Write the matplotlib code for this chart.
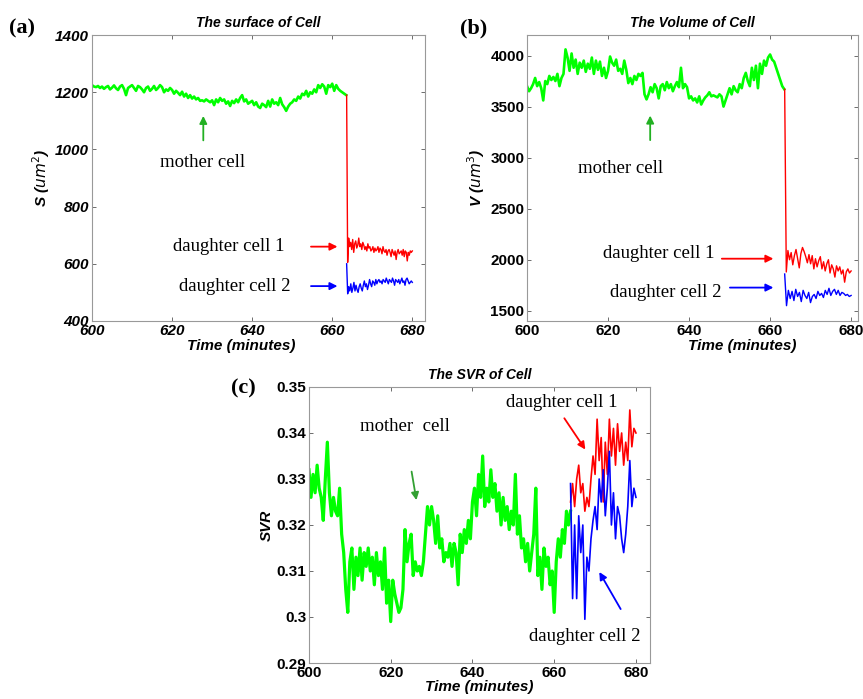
import numpy as np
import matplotlib
matplotlib.use('Agg')
import matplotlib.pyplot as plt

plt.rcParams['font.family'] = ['Liberation Sans', 'DejaVu Sans']

# ---- (a) surface, S (um^2) ----
s_mother = [1225, 1220, 1218, 1222, 1215, 1220, 1212, 1218, 1222, 1210, 1216, 1224, 1214, 1208, 1220, 1225, 1212, 1190, 1215, 1220,
            1225, 1215, 1205, 1222, 1218, 1210, 1200, 1215, 1220, 1205, 1212, 1222, 1208, 1215, 1225, 1218, 1200, 1210, 1205, 1215,
            1208, 1195, 1205, 1198, 1190, 1202, 1185, 1195, 1180, 1190, 1178, 1185, 1175, 1180, 1170, 1172, 1168, 1175, 1170, 1165,
            1172, 1155, 1175, 1165, 1180, 1170, 1175, 1160, 1168, 1152, 1170, 1162, 1175, 1165, 1180, 1190, 1168, 1175, 1160, 1165,
            1170, 1155, 1165, 1150, 1145, 1160, 1155, 1148, 1170, 1150, 1175, 1160, 1165, 1155, 1180, 1158, 1148, 1135, 1150, 1160,
            1165, 1175, 1170, 1185, 1178, 1195, 1190, 1205, 1185, 1200, 1195, 1210, 1200, 1225, 1215, 1228, 1220, 1195, 1225, 1218,
            1230, 1205, 1225, 1212, 1205, 1200, 1195, 1190]
s_d1 = [1190, 605, 690, 660, 675, 650, 685, 640, 670, 680, 655, 665, 690, 660, 670, 650, 675, 665, 650, 660, 645, 670, 655,
        660, 645, 650, 660, 640, 655, 645, 650, 660, 640, 655, 650, 635, 660, 645, 640, 650, 630, 645, 650, 640, 625, 650,
        640, 630, 645, 615, 640, 650, 635, 640, 645, 630, 650, 625, 645, 640, 610, 640, 630, 645, 640, 645]
s_d2 = [600, 495, 520, 505, 530, 500, 515, 535, 505, 525, 510, 500, 520, 530, 515, 505, 525, 540, 520, 530, 510, 525, 545,
        530, 520, 540, 535, 525, 545, 530, 540, 545, 535, 540, 530, 545, 540, 535, 550, 540, 530, 545, 540, 535, 550, 540,
        525, 545, 540, 535, 545, 530, 540, 550, 535, 540, 525, 545, 550, 540, 530, 535, 540, 535]

# ---- (b) volume, V (um^3) ----
v_mother = [3700, 3650, 3680, 3720, 3780, 3700, 3740, 3680, 3560, 3750, 3720, 3800, 3760, 3790, 3750, 3820, 3700, 3780, 3820, 4060,
            3980, 3850, 4020, 3880, 3960, 3820, 3930, 3880, 3950, 3840, 3920, 3870, 3980, 3820, 3950, 3860, 3940, 3800, 3880, 3780,
            3850, 3990, 3930, 3900, 3960, 3850, 3870, 3820, 3950, 3860, 3730, 3780, 3720, 3800, 3760, 3820, 3800, 3830, 3620, 3570,
            3620, 3690, 3640, 3720, 3680, 3580, 3700, 3720, 3660, 3740, 3680, 3720, 3650, 3700, 3740, 3690, 3880, 3680, 3720, 3690,
            3580, 3600, 3560, 3580, 3540, 3600, 3520, 3560, 3590, 3610, 3640, 3600, 3610, 3600, 3590, 3620, 3600, 3500, 3560, 3620,
            3680, 3620, 3700, 3660, 3640, 3720, 3680, 3780, 3830, 3750, 3700, 3880, 3760, 3900, 3680, 3920, 3820, 3950, 3900, 3980,
            4010, 3960, 3940, 3880, 3820, 3760, 3700, 3670]
v_d1 = [3670, 1880, 2090, 2000, 2070, 1950, 2040, 2100, 2010, 1920, 2060, 2120, 2080, 2030, 1970, 2050, 1960, 2040, 1910,
        2010, 1930, 1990, 2030, 1910, 1980, 1890, 1960, 2000, 1870, 1950, 1910, 1830, 1940, 1890, 1930, 1860, 1900, 1780,
        1880, 1910, 1870, 1890]
v_d2 = [1860, 1550, 1700, 1620, 1690, 1600, 1710, 1640, 1680, 1590, 1700, 1650, 1620, 1680, 1580, 1640, 1660, 1620, 1690,
        1650, 1670, 1630, 1700, 1660, 1720, 1650, 1690, 1710, 1660, 1700, 1650, 1680, 1670, 1650, 1660, 1640, 1650]

# ---- (c) SVR ----
svr_mother = [0.332, 0.326, 0.331, 0.327, 0.333, 0.328, 0.326, 0.321, 0.330, 0.338,
              0.327, 0.322, 0.326, 0.323, 0.322, 0.328, 0.318, 0.314, 0.306, 0.301,
              0.312, 0.315, 0.306, 0.313, 0.309, 0.315, 0.308, 0.314, 0.311, 0.315,
              0.310, 0.313, 0.307, 0.314, 0.309, 0.312, 0.306, 0.315, 0.303, 0.308,
              0.299, 0.308, 0.305, 0.303, 0.301, 0.302, 0.306, 0.319, 0.312, 0.316,
              0.318, 0.309, 0.312, 0.310, 0.311, 0.309, 0.312, 0.318, 0.324, 0.320,
              0.324, 0.321, 0.316, 0.322, 0.315, 0.317, 0.312, 0.314, 0.313, 0.316,
              0.311, 0.316, 0.314, 0.307, 0.318, 0.314, 0.319, 0.316, 0.321, 0.317,
              0.325, 0.328, 0.322, 0.331, 0.326, 0.335, 0.324, 0.328, 0.325, 0.332,
              0.326, 0.329, 0.323, 0.327, 0.320, 0.326, 0.321, 0.324, 0.319, 0.323,
              0.320, 0.331, 0.318, 0.322, 0.315, 0.317, 0.312, 0.316, 0.310, 0.314,
              0.318, 0.328, 0.309, 0.313, 0.306, 0.315, 0.311, 0.313, 0.307, 0.310,
              0.301, 0.312, 0.317, 0.313, 0.319, 0.316, 0.323, 0.320, 0.323]
svr_d1 = [0.325, 0.329, 0.324, 0.330, 0.333, 0.327, 0.329, 0.323, 0.326, 0.324, 0.330, 0.335, 0.331, 0.343, 0.334, 0.339,
          0.325, 0.338, 0.331, 0.343, 0.335, 0.341, 0.333, 0.342, 0.336, 0.340, 0.333, 0.338, 0.334, 0.345, 0.337, 0.341, 0.340]
svr_d2 = [0.329, 0.304, 0.320, 0.304, 0.322, 0.314, 0.320, 0.2995, 0.313, 0.310, 0.317, 0.321, 0.324, 0.319, 0.330, 0.325,
          0.332, 0.322, 0.328, 0.336, 0.320, 0.327, 0.317, 0.324, 0.322, 0.317, 0.314, 0.318, 0.324, 0.334, 0.324, 0.328, 0.326]

xticks = [600, 620, 640, 660, 680]
GREEN, RED, BLUE = '#00ff00', '#ff0000', '#0000ff'
serif = dict(family='Liberation Serif', fontsize=13.5)


def style_axes(ax, italic=False):
    ax.tick_params(direction='in', top=True, right=True, length=3, width=0.6, color='#555555', pad=2)
    for sp in ax.spines.values():
        sp.set_color('#999999')
        sp.set_linewidth(0.8)
    for lab in ax.get_xticklabels() + ax.get_yticklabels():
        lab.set_fontweight('bold')
        lab.set_fontsize(11)
        if italic:
            lab.set_fontstyle('italic')


def arrow(ax, tail, tip, color, lw=1.3):
    ax.annotate('', xy=tip, xytext=tail,
                arrowprops=dict(arrowstyle='-|>', color=color, lw=lw, mutation_scale=11))


fig = plt.figure(figsize=(8.63, 6.99), dpi=100)

# (a)
axa = fig.add_axes([0.1066, 0.5408, 0.386, 0.409])
axa.plot(np.linspace(600, 663.5, len(s_mother)), s_mother, color=GREEN, lw=1.9)
axa.plot(np.linspace(663.6, 680, len(s_d1)), s_d1, color=RED, lw=1.0)
axa.plot(np.linspace(663.6, 680, len(s_d2)), s_d2, color=BLUE, lw=1.0)
axa.set_xlim(600, 683.2)
axa.set_ylim(400, 1400)
axa.set_xticks(xticks)
axa.set_yticks(range(400, 1401, 200))
style_axes(axa, italic=True)
axa.set_title('The surface of Cell', fontsize=10, fontweight='bold', style='italic', pad=6)
axa.set_ylabel('S ($\\mathit{um}^2$)', fontsize=11, fontweight='bold', style='italic', labelpad=2)
axa.text(627.5, 956, 'mother cell', ha='center', va='center', **serif)
arrow(axa, (627.8, 1022), (627.8, 1127), '#22b022')
axa.text(648, 662, 'daughter cell 1', ha='right', va='center', **serif)
arrow(axa, (654, 660), (662, 660), RED)
axa.text(649.5, 522, 'daughter cell 2', ha='right', va='center', **serif)
arrow(axa, (654, 522), (662, 522), BLUE)

# (b)
axb = fig.add_axes([0.6107, 0.5408, 0.3835, 0.409])
axb.plot(np.linspace(600, 663.5, len(v_mother)), v_mother, color=GREEN, lw=1.9)
axb.plot(np.linspace(663.6, 680, len(v_d1)), v_d1, color=RED, lw=1.0)
axb.plot(np.linspace(663.6, 680, len(v_d2)), v_d2, color=BLUE, lw=1.0)
axb.set_xlim(600, 681.7)
axb.set_ylim(1400, 4200)
axb.set_xticks(xticks)
axb.set_yticks(range(1500, 4001, 500))
style_axes(axb)
axb.set_title('The Volume of Cell', fontsize=10, fontweight='bold', style='italic', pad=6)
axb.set_ylabel('V ($\\mathit{um}^3$)', fontsize=11, fontweight='bold', style='italic', labelpad=2)
axb.text(623, 2898, 'mother cell', ha='center', va='center', **serif)
arrow(axb, (630.4, 3144), (630.4, 3439), '#22b022')
axb.text(646.4, 2061, 'daughter cell 1', ha='right', va='center', **serif)
arrow(axb, (647.4, 2010), (661.5, 2010), RED)
axb.text(648, 1677, 'daughter cell 2', ha='right', va='center', **serif)
arrow(axb, (649.4, 1727), (661.5, 1727), BLUE)

# (c)
axc = fig.add_axes([0.358, 0.0515, 0.395, 0.3949])
axc.plot(np.linspace(600, 664, len(svr_mother)), svr_mother, color=GREEN, lw=2.3)
axc.plot(np.linspace(664, 680, len(svr_d1)), svr_d1, color=RED, lw=1.2)
axc.plot(np.linspace(664, 680, len(svr_d2)), svr_d2, color=BLUE, lw=1.2)
axc.set_xlim(600, 683.4)
axc.set_ylim(0.29, 0.35)
axc.set_xticks(xticks)
svr_ticks = [0.29, 0.30, 0.31, 0.32, 0.33, 0.34, 0.35]
axc.set_yticks(svr_ticks)
axc.set_yticklabels(['0.29', '0.3', '0.31', '0.32', '0.33', '0.34', '0.35'])
style_axes(axc)
axc.set_title('The SVR of Cell', fontsize=10, fontweight='bold', style='italic', pad=6)
axc.set_ylabel('SVR', fontsize=11, fontweight='bold', style='italic', labelpad=2)
axc.set_xlabel('Time (minutes)', fontsize=11, fontweight='bold', style='italic', labelpad=0)
axc.text(623.5, 0.3413, 'mother  cell', ha='center', va='center', **serif)
arrow(axc, (625, 0.3322), (626.4, 0.3248), '#33a033')
axc.text(661.9, 0.3467, 'daughter cell 1', ha='center', va='center', **serif)
arrow(axc, (662.1, 0.3437), (668.0, 0.3359), RED)
axc.text(667.5, 0.2958, 'daughter cell 2', ha='center', va='center', **serif)
arrow(axc, (676.6, 0.3012), (670.7, 0.3103), BLUE)

# x labels of the top panels and panel letters
W, H = 863.0, 699.0
for px, py in [(241, 346), (742, 346)]:
    fig.text(px / W, 1 - py / H, 'Time (minutes)', ha='center', va='center',
             fontsize=11, fontweight='bold', style='italic')
for px, py, s in [(22, 28, '(a)'), (474, 28, '(b)'), (243, 388, '(c)')]:
    fig.text(px / W, 1 - py / H, s, ha='center', va='center', family='Liberation Serif',
             fontsize=16, fontweight='bold')

fig.savefig('out.png', dpi=100)
